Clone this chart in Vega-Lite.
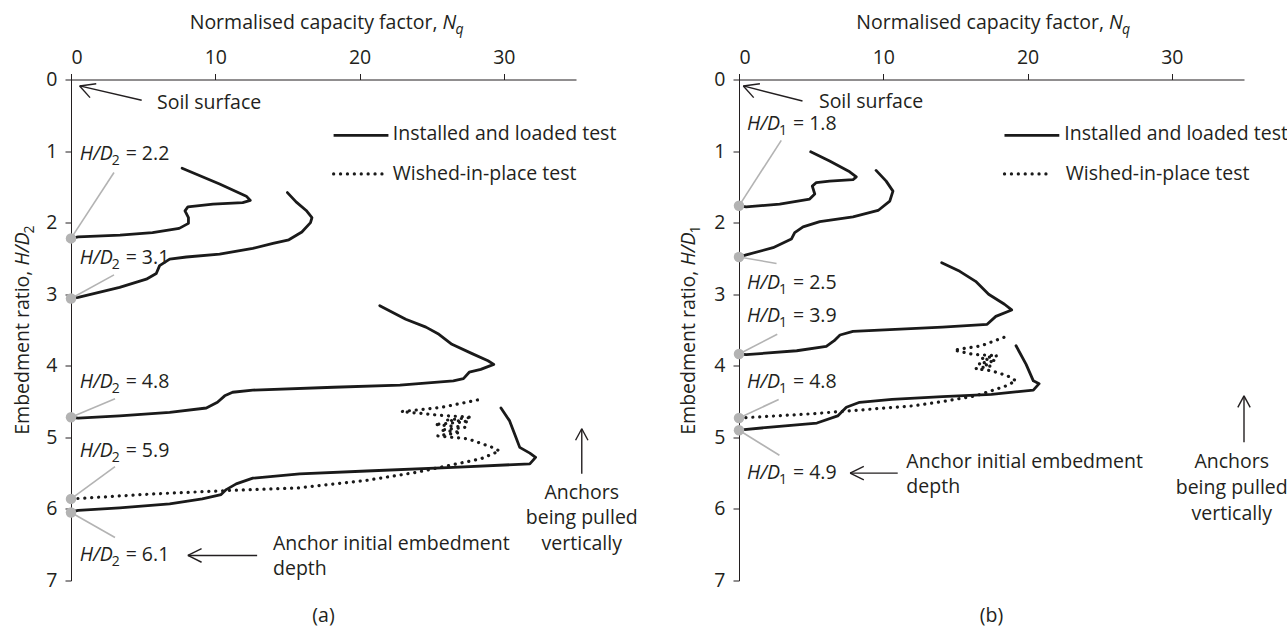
{
  "$schema": "https://vega.github.io/schema/vega-lite/v6.json",
  "padding": {"left": 12, "top": 12.5, "right": 0, "bottom": 8},
  "spacing": 163,
  "bounds": "flush",
  "config": {
    "view": {"stroke": null},
    "axis": {"grid": false, "domainColor": "#231f20", "tickColor": "#231f20", "labelColor": "#231f20", "labelFont": "Open Sans", "labelFontSize": 19.5, "tickSize": 6, "domainWidth": 1, "tickWidth": 1},
    "text": {"font": "Open Sans", "fontSize": 19.5, "color": "#231f20"}
  },
  "datasets": {
    "curves": [
      {"p":"a","id":"a1","t":"solid","s":1,"N":0,"H":2.22},{"p":"a","id":"a1","t":"solid","s":2,"N":0.5,"H":2.2},{"p":"a","id":"a1","t":"solid","s":3,"N":3.4,"H":2.175},{"p":"a","id":"a1","t":"solid","s":4,"N":5.65,"H":2.14},{"p":"a","id":"a1","t":"solid","s":5,"N":7.5,"H":2.08},{"p":"a","id":"a1","t":"solid","s":6,"N":8.14,"H":2.01},{"p":"a","id":"a1","t":"solid","s":7,"N":8.14,"H":1.93},{"p":"a","id":"a1","t":"solid","s":8,"N":7.9,"H":1.835},{"p":"a","id":"a1","t":"solid","s":9,"N":8.1,"H":1.78},{"p":"a","id":"a1","t":"solid","s":10,"N":9.84,"H":1.74},{"p":"a","id":"a1","t":"solid","s":11,"N":11.9,"H":1.72},{"p":"a","id":"a1","t":"solid","s":12,"N":12.43,"H":1.69},{"p":"a","id":"a1","t":"solid","s":13,"N":12.15,"H":1.63},{"p":"a","id":"a1","t":"solid","s":14,"N":10.3,"H":1.46},{"p":"a","id":"a1","t":"solid","s":15,"N":7.7,"H":1.24},
      {"p":"a","id":"a2","t":"solid","s":1,"N":0,"H":3.06},{"p":"a","id":"a2","t":"solid","s":2,"N":0.5,"H":3.045},{"p":"a","id":"a2","t":"solid","s":3,"N":3.37,"H":2.905},{"p":"a","id":"a2","t":"solid","s":4,"N":5.22,"H":2.79},{"p":"a","id":"a2","t":"solid","s":5,"N":5.91,"H":2.71},{"p":"a","id":"a2","t":"solid","s":6,"N":6.14,"H":2.6},{"p":"a","id":"a2","t":"solid","s":7,"N":6.84,"H":2.51},{"p":"a","id":"a2","t":"solid","s":8,"N":8.0,"H":2.48},{"p":"a","id":"a2","t":"solid","s":9,"N":10.3,"H":2.44},{"p":"a","id":"a2","t":"solid","s":10,"N":12.6,"H":2.36},{"p":"a","id":"a2","t":"solid","s":11,"N":14.0,"H":2.29},{"p":"a","id":"a2","t":"solid","s":12,"N":15.1,"H":2.24},{"p":"a","id":"a2","t":"solid","s":13,"N":16.0,"H":2.13},{"p":"a","id":"a2","t":"solid","s":14,"N":16.6,"H":2.0},{"p":"a","id":"a2","t":"solid","s":15,"N":16.7,"H":1.93},{"p":"a","id":"a2","t":"solid","s":16,"N":16.3,"H":1.83},{"p":"a","id":"a2","t":"solid","s":17,"N":15.6,"H":1.71},{"p":"a","id":"a2","t":"solid","s":18,"N":15.0,"H":1.58},
      {"p":"a","id":"a3","t":"solid","s":1,"N":0,"H":4.72},{"p":"a","id":"a3","t":"solid","s":2,"N":0.5,"H":4.73},{"p":"a","id":"a3","t":"solid","s":3,"N":3.37,"H":4.7},{"p":"a","id":"a3","t":"solid","s":4,"N":6.84,"H":4.65},{"p":"a","id":"a3","t":"solid","s":5,"N":9.38,"H":4.59},{"p":"a","id":"a3","t":"solid","s":6,"N":10.15,"H":4.51},{"p":"a","id":"a3","t":"solid","s":7,"N":10.65,"H":4.42},{"p":"a","id":"a3","t":"solid","s":8,"N":11.2,"H":4.37},{"p":"a","id":"a3","t":"solid","s":9,"N":12.6,"H":4.34},{"p":"a","id":"a3","t":"solid","s":10,"N":18.2,"H":4.3},{"p":"a","id":"a3","t":"solid","s":11,"N":22.8,"H":4.27},{"p":"a","id":"a3","t":"solid","s":12,"N":26.5,"H":4.21},{"p":"a","id":"a3","t":"solid","s":13,"N":27.2,"H":4.18},{"p":"a","id":"a3","t":"solid","s":14,"N":27.6,"H":4.09},{"p":"a","id":"a3","t":"solid","s":15,"N":28.4,"H":4.05},{"p":"a","id":"a3","t":"solid","s":16,"N":29.3,"H":3.98},{"p":"a","id":"a3","t":"solid","s":17,"N":28.9,"H":3.93},{"p":"a","id":"a3","t":"solid","s":18,"N":27.8,"H":3.83},{"p":"a","id":"a3","t":"solid","s":19,"N":26.4,"H":3.7},{"p":"a","id":"a3","t":"solid","s":20,"N":25.5,"H":3.56},{"p":"a","id":"a3","t":"solid","s":21,"N":24.6,"H":3.46},{"p":"a","id":"a3","t":"solid","s":22,"N":23.2,"H":3.35},{"p":"a","id":"a3","t":"solid","s":23,"N":21.4,"H":3.16},
      {"p":"a","id":"a4","t":"solid","s":1,"N":0,"H":6.04},{"p":"a","id":"a4","t":"solid","s":2,"N":0.5,"H":6.02},{"p":"a","id":"a4","t":"solid","s":3,"N":3.37,"H":5.985},{"p":"a","id":"a4","t":"solid","s":4,"N":6.84,"H":5.93},{"p":"a","id":"a4","t":"solid","s":5,"N":9.1,"H":5.86},{"p":"a","id":"a4","t":"solid","s":6,"N":10.4,"H":5.8},{"p":"a","id":"a4","t":"solid","s":7,"N":10.76,"H":5.73},{"p":"a","id":"a4","t":"solid","s":8,"N":11.45,"H":5.65},{"p":"a","id":"a4","t":"solid","s":9,"N":12.6,"H":5.57},{"p":"a","id":"a4","t":"solid","s":10,"N":15.85,"H":5.51},{"p":"a","id":"a4","t":"solid","s":11,"N":20.5,"H":5.47},{"p":"a","id":"a4","t":"solid","s":12,"N":26.5,"H":5.42},{"p":"a","id":"a4","t":"solid","s":13,"N":31.8,"H":5.37},{"p":"a","id":"a4","t":"solid","s":14,"N":32.2,"H":5.28},{"p":"a","id":"a4","t":"solid","s":15,"N":31.8,"H":5.22},{"p":"a","id":"a4","t":"solid","s":16,"N":31.1,"H":5.14},{"p":"a","id":"a4","t":"solid","s":17,"N":30.8,"H":4.98},{"p":"a","id":"a4","t":"solid","s":18,"N":30.4,"H":4.77},{"p":"a","id":"a4","t":"solid","s":19,"N":29.8,"H":4.59},
      {"p":"a","id":"a5","t":"dotted","s":1,"N":0,"H":5.86},{"p":"a","id":"a5","t":"dotted","s":2,"N":5.68,"H":5.79},{"p":"a","id":"a5","t":"dotted","s":3,"N":11.2,"H":5.74},{"p":"a","id":"a5","t":"dotted","s":4,"N":15.85,"H":5.705},{"p":"a","id":"a5","t":"dotted","s":5,"N":20.5,"H":5.6},{"p":"a","id":"a5","t":"dotted","s":6,"N":23.9,"H":5.49},{"p":"a","id":"a5","t":"dotted","s":7,"N":26.5,"H":5.38},{"p":"a","id":"a5","t":"dotted","s":8,"N":28.4,"H":5.3},{"p":"a","id":"a5","t":"dotted","s":9,"N":29.7,"H":5.19},{"p":"a","id":"a5","t":"dotted","s":10,"N":29.2,"H":5.14},{"p":"a","id":"a5","t":"dotted","s":11,"N":27.5,"H":5.02},{"p":"a","id":"a5","t":"dotted","s":12,"N":25.4,"H":4.98},{"p":"a","id":"a5","t":"dotted","s":13,"N":27.0,"H":4.93},{"p":"a","id":"a5","t":"dotted","s":14,"N":25.6,"H":4.9},{"p":"a","id":"a5","t":"dotted","s":15,"N":27.3,"H":4.86},{"p":"a","id":"a5","t":"dotted","s":16,"N":25.2,"H":4.82},{"p":"a","id":"a5","t":"dotted","s":17,"N":27.6,"H":4.78},{"p":"a","id":"a5","t":"dotted","s":18,"N":26.0,"H":4.76},{"p":"a","id":"a5","t":"dotted","s":19,"N":27.8,"H":4.72},{"p":"a","id":"a5","t":"dotted","s":20,"N":25.5,"H":4.69},{"p":"a","id":"a5","t":"dotted","s":21,"N":22.9,"H":4.64},{"p":"a","id":"a5","t":"dotted","s":22,"N":25.7,"H":4.58},{"p":"a","id":"a5","t":"dotted","s":23,"N":28.6,"H":4.46},
      {"p":"b","id":"b1","t":"solid","s":1,"N":0,"H":1.765},{"p":"b","id":"b1","t":"solid","s":2,"N":0.5,"H":1.78},{"p":"b","id":"b1","t":"solid","s":3,"N":2.82,"H":1.74},{"p":"b","id":"b1","t":"solid","s":4,"N":4.9,"H":1.67},{"p":"b","id":"b1","t":"solid","s":5,"N":5.25,"H":1.6},{"p":"b","id":"b1","t":"solid","s":6,"N":5.08,"H":1.49},{"p":"b","id":"b1","t":"solid","s":7,"N":5.36,"H":1.44},{"p":"b","id":"b1","t":"solid","s":8,"N":6.28,"H":1.42},{"p":"b","id":"b1","t":"solid","s":9,"N":7.9,"H":1.4},{"p":"b","id":"b1","t":"solid","s":10,"N":8.13,"H":1.36},{"p":"b","id":"b1","t":"solid","s":11,"N":7.67,"H":1.29},{"p":"b","id":"b1","t":"solid","s":12,"N":6.28,"H":1.14},{"p":"b","id":"b1","t":"solid","s":13,"N":4.97,"H":1.01},
      {"p":"b","id":"b2","t":"solid","s":1,"N":0,"H":2.48},{"p":"b","id":"b2","t":"solid","s":2,"N":0.5,"H":2.45},{"p":"b","id":"b2","t":"solid","s":3,"N":2.36,"H":2.35},{"p":"b","id":"b2","t":"solid","s":4,"N":3.63,"H":2.23},{"p":"b","id":"b2","t":"solid","s":5,"N":3.86,"H":2.14},{"p":"b","id":"b2","t":"solid","s":6,"N":4.44,"H":2.06},{"p":"b","id":"b2","t":"solid","s":7,"N":5.6,"H":1.985},{"p":"b","id":"b2","t":"solid","s":8,"N":7.9,"H":1.92},{"p":"b","id":"b2","t":"solid","s":9,"N":9.64,"H":1.83},{"p":"b","id":"b2","t":"solid","s":10,"N":10.45,"H":1.7},{"p":"b","id":"b2","t":"solid","s":11,"N":10.67,"H":1.56},{"p":"b","id":"b2","t":"solid","s":12,"N":10.2,"H":1.42},{"p":"b","id":"b2","t":"solid","s":13,"N":9.5,"H":1.27},
      {"p":"b","id":"b3","t":"solid","s":1,"N":0,"H":3.835},{"p":"b","id":"b3","t":"solid","s":2,"N":0.5,"H":3.845},{"p":"b","id":"b3","t":"solid","s":3,"N":4.0,"H":3.79},{"p":"b","id":"b3","t":"solid","s":4,"N":6.05,"H":3.73},{"p":"b","id":"b3","t":"solid","s":5,"N":6.6,"H":3.65},{"p":"b","id":"b3","t":"solid","s":6,"N":7.0,"H":3.57},{"p":"b","id":"b3","t":"solid","s":7,"N":7.9,"H":3.52},{"p":"b","id":"b3","t":"solid","s":8,"N":14.1,"H":3.46},{"p":"b","id":"b3","t":"solid","s":9,"N":17.2,"H":3.42},{"p":"b","id":"b3","t":"solid","s":10,"N":17.8,"H":3.31},{"p":"b","id":"b3","t":"solid","s":11,"N":18.9,"H":3.22},{"p":"b","id":"b3","t":"solid","s":12,"N":18.4,"H":3.14},{"p":"b","id":"b3","t":"solid","s":13,"N":17.3,"H":3.0},{"p":"b","id":"b3","t":"solid","s":14,"N":16.4,"H":2.82},{"p":"b","id":"b3","t":"solid","s":15,"N":15.3,"H":2.68},{"p":"b","id":"b3","t":"solid","s":16,"N":14.05,"H":2.56},
      {"p":"b","id":"b4","t":"solid","s":1,"N":0,"H":4.9},{"p":"b","id":"b4","t":"solid","s":2,"N":2.0,"H":4.86},{"p":"b","id":"b4","t":"solid","s":3,"N":5.4,"H":4.8},{"p":"b","id":"b4","t":"solid","s":4,"N":6.84,"H":4.7},{"p":"b","id":"b4","t":"solid","s":5,"N":7.44,"H":4.58},{"p":"b","id":"b4","t":"solid","s":6,"N":8.36,"H":4.51},{"p":"b","id":"b4","t":"solid","s":7,"N":10.6,"H":4.47},{"p":"b","id":"b4","t":"solid","s":8,"N":14.1,"H":4.43},{"p":"b","id":"b4","t":"solid","s":9,"N":17.5,"H":4.4},{"p":"b","id":"b4","t":"solid","s":10,"N":20.4,"H":4.34},{"p":"b","id":"b4","t":"solid","s":11,"N":20.8,"H":4.25},{"p":"b","id":"b4","t":"solid","s":12,"N":20.4,"H":4.21},{"p":"b","id":"b4","t":"solid","s":13,"N":19.9,"H":3.98},{"p":"b","id":"b4","t":"solid","s":14,"N":19.2,"H":3.72},
      {"p":"b","id":"b5","t":"dotted","s":1,"N":0,"H":4.73},{"p":"b","id":"b5","t":"dotted","s":2,"N":5.1,"H":4.67},{"p":"b","id":"b5","t":"dotted","s":3,"N":12.06,"H":4.56},{"p":"b","id":"b5","t":"dotted","s":4,"N":14.1,"H":4.5},{"p":"b","id":"b5","t":"dotted","s":5,"N":16.4,"H":4.42},{"p":"b","id":"b5","t":"dotted","s":6,"N":18.4,"H":4.29},{"p":"b","id":"b5","t":"dotted","s":7,"N":19.2,"H":4.21},{"p":"b","id":"b5","t":"dotted","s":8,"N":18.6,"H":4.14},{"p":"b","id":"b5","t":"dotted","s":9,"N":17.5,"H":4.07},{"p":"b","id":"b5","t":"dotted","s":10,"N":16.4,"H":4.04},{"p":"b","id":"b5","t":"dotted","s":11,"N":17.5,"H":4.0},{"p":"b","id":"b5","t":"dotted","s":12,"N":16.6,"H":3.97},{"p":"b","id":"b5","t":"dotted","s":13,"N":17.8,"H":3.93},{"p":"b","id":"b5","t":"dotted","s":14,"N":16.8,"H":3.9},{"p":"b","id":"b5","t":"dotted","s":15,"N":17.9,"H":3.86},{"p":"b","id":"b5","t":"dotted","s":16,"N":16.2,"H":3.84},{"p":"b","id":"b5","t":"dotted","s":17,"N":14.9,"H":3.78},{"p":"b","id":"b5","t":"dotted","s":18,"N":16.8,"H":3.72},{"p":"b","id":"b5","t":"dotted","s":19,"N":18.4,"H":3.6}
    ],
    "dots": [
      {"p":"a","N":0,"H":2.22},{"p":"a","N":0,"H":3.06},{"p":"a","N":0,"H":4.72},{"p":"a","N":0,"H":5.86},{"p":"a","N":0,"H":6.05},
      {"p":"b","N":0,"H":1.765},{"p":"b","N":0,"H":2.48},{"p":"b","N":0,"H":3.835},{"p":"b","N":0,"H":4.73},{"p":"b","N":0,"H":4.9}
    ],
    "leaders": [
      {"p":"a","N":0,"H":2.22,"N2":2.98,"H2":1.3},{"p":"a","N":0,"H":3.06,"N2":2.98,"H2":2.73},{"p":"a","N":0,"H":4.72,"N2":3.05,"H2":4.46},{"p":"a","N":0,"H":5.86,"N2":3.05,"H2":5.41},{"p":"a","N":0,"H":6.05,"N2":3.05,"H2":6.4},
      {"p":"b","N":0,"H":1.765,"N2":2.93,"H2":0.85},{"p":"b","N":0,"H":2.48,"N2":2.6,"H2":2.57},{"p":"b","N":0,"H":3.835,"N2":2.65,"H2":3.56},{"p":"b","N":0,"H":4.73,"N2":2.75,"H2":4.47},{"p":"b","N":0,"H":4.9,"N2":2.8,"H2":5.25}
    ],
    "arrows": [
      {"p":"a","N":0.6,"H":0.09,"N2":4.9,"H2":0.29},{"p":"a","N":0.6,"H":0.09,"N2":1.75,"H2":0.06},{"p":"a","N":0.6,"H":0.09,"N2":1.32,"H2":0.253},
      {"p":"a","N":8.1,"H":6.65,"N2":12.9,"H2":6.65},{"p":"a","N":8.1,"H":6.65,"N2":9.05,"H2":6.555},{"p":"a","N":8.1,"H":6.65,"N2":9.05,"H2":6.745},
      {"p":"a","N":35.4,"H":4.88,"N2":35.4,"H2":5.51},{"p":"a","N":35.4,"H":4.88,"N2":34.97,"H2":5.04},{"p":"a","N":35.4,"H":4.88,"N2":35.83,"H2":5.04},
      {"p":"b","N":0.3,"H":0.09,"N2":4.4,"H2":0.3},{"p":"b","N":0.3,"H":0.09,"N2":1.45,"H2":0.06},{"p":"b","N":0.3,"H":0.09,"N2":1.02,"H2":0.253},
      {"p":"b","N":7.7,"H":5.5,"N2":11.0,"H2":5.5},{"p":"b","N":7.7,"H":5.5,"N2":8.65,"H2":5.405},{"p":"b","N":7.7,"H":5.5,"N2":8.65,"H2":5.595},
      {"p":"b","N":35.0,"H":4.42,"N2":35.0,"H2":5.07},{"p":"b","N":35.0,"H":4.42,"N2":34.57,"H2":4.58},{"p":"b","N":35.0,"H":4.42,"N2":35.43,"H2":4.58}
    ],
    "samples": [
      {"p":"a","t":"solid","N":18.2,"H":0.78,"N2":22.0,"H2":0.78},{"p":"a","t":"dotted","N":18.2,"H":1.32,"N2":21.6,"H2":1.32},
      {"p":"b","t":"solid","N":18.4,"H":0.78,"N2":22.2,"H2":0.78},{"p":"b","t":"dotted","N":18.4,"H":1.32,"N2":21.6,"H2":1.32}
    ],
    "notes": [
      {"p":"a","N":5.96,"H":0.335,"text":"Soil surface"},{"p":"a","N":22.3,"H":0.765,"text":"Installed and loaded test"},{"p":"a","N":22.3,"H":1.32,"text":"Wished-in-place test"},{"p":"a","N":14.0,"H":6.49,"text":"Anchor initial embedment"},{"p":"a","N":14.0,"H":6.84,"text":"depth"},
      {"p":"b","N":5.54,"H":0.32,"text":"Soil surface"},{"p":"b","N":22.55,"H":0.765,"text":"Installed and loaded test"},{"p":"b","N":22.65,"H":1.32,"text":"Wished-in-place test"},{"p":"b","N":11.6,"H":5.35,"text":"Anchor initial embedment"},{"p":"b","N":11.6,"H":5.7,"text":"depth"}
    ],
    "cnotes": [
      {"p":"a","N":35.4,"H":5.78,"text":"Anchors"},{"p":"a","N":35.4,"H":6.12,"text":"being pulled"},{"p":"a","N":35.4,"H":6.49,"text":"vertically"},{"p":"a","N":17.5,"H":7.5,"text":"(a)"},
      {"p":"b","N":34.15,"H":5.35,"text":"Anchors"},{"p":"b","N":34.15,"H":5.71,"text":"being pulled"},{"p":"b","N":34.15,"H":6.07,"text":"vertically"},{"p":"b","N":17.5,"H":7.5,"text":"(b)"}
    ],
    "labels": [
      {"p":"a","N":0.6,"H":1.045,"pre":"H/D","sub":"2","val":"= 2.2"},{"p":"a","N":0.6,"H":2.49,"pre":"H/D","sub":"2","val":"= 3.1"},{"p":"a","N":0.6,"H":4.23,"pre":"H/D","sub":"2","val":"= 4.8"},{"p":"a","N":0.6,"H":5.185,"pre":"H/D","sub":"2","val":"= 5.9"},{"p":"a","N":0.6,"H":6.65,"pre":"H/D","sub":"2","val":"= 6.1"},
      {"p":"b","N":0.55,"H":0.62,"pre":"H/D","sub":"1","val":"= 1.8"},{"p":"b","N":0.55,"H":2.84,"pre":"H/D","sub":"1","val":"= 2.5"},{"p":"b","N":0.55,"H":3.3,"pre":"H/D","sub":"1","val":"= 3.9"},{"p":"b","N":0.55,"H":4.23,"pre":"H/D","sub":"1","val":"= 4.8"},{"p":"b","N":0.55,"H":5.5,"pre":"H/D","sub":"1","val":"= 4.9"}
    ],
    "xtitle": [
      {"p":"a","N":25.4,"H":-0.79,"plain":"Normalised capacity factor,","ital":"N","sub":"q"},
      {"p":"b","N":25.3,"H":-0.79,"plain":"Normalised capacity factor,","ital":"N","sub":"q"}
    ],
    "ytitle": [
      {"p":"a","N":-3.33,"H":2.67,"plain":"Embedment ratio,","ital":"H/D","sub":"2"},
      {"p":"b","N":-3.45,"H":2.67,"plain":"Embedment ratio,","ital":"H/D","sub":"1"}
    ]
  },
  "hconcat": [
    {
      "width": 505, "height": 501,
      "encoding": {
        "x": {"field": "N", "type": "quantitative", "scale": {"domain": [0, 35], "nice": false, "zero": false}, "axis": {"orient": "top", "values": [0, 10, 20, 30], "title": null, "labelPadding": 6}},
        "y": {"field": "H", "type": "quantitative", "scale": {"domain": [0, 7], "nice": false, "zero": false, "reverse": true}, "axis": {"values": [0, 1, 2, 3, 4, 5, 6, 7], "title": null, "labelPadding": 8}}
      },
      "layer": [
        {"data": {"name": "curves"}, "transform": [{"filter": "datum.p==='a' && datum.t==='solid'"}], "mark": {"type": "line", "stroke": "#1a1a1a", "strokeWidth": 2.8, "strokeCap": "round", "strokeJoin": "round"}, "encoding": {"detail": {"field": "id"}, "order": {"field": "s", "type": "quantitative"}}},
        {"data": {"name": "curves"}, "transform": [{"filter": "datum.p==='a' && datum.t==='dotted'"}], "mark": {"type": "line", "stroke": "#1a1a1a", "strokeWidth": 3.2, "strokeCap": "round", "strokeDash": [0.1, 6.8]}, "encoding": {"detail": {"field": "id"}, "order": {"field": "s", "type": "quantitative"}}},
        {"data": {"name": "leaders"}, "transform": [{"filter": "datum.p==='a'"}], "mark": {"type": "rule", "color": "#b3b3b3", "strokeWidth": 1.6}, "encoding": {"x2": {"field": "N2"}, "y2": {"field": "H2"}}},
        {"data": {"name": "dots"}, "transform": [{"filter": "datum.p==='a'"}], "mark": {"type": "point", "filled": true, "size": 110, "color": "#b3b3b3", "opacity": 1}},
        {"data": {"name": "arrows"}, "transform": [{"filter": "datum.p==='a'"}], "mark": {"type": "rule", "color": "#231f20", "strokeWidth": 1.4}, "encoding": {"x2": {"field": "N2"}, "y2": {"field": "H2"}}},
        {"data": {"name": "samples"}, "transform": [{"filter": "datum.p==='a' && datum.t==='solid'"}], "mark": {"type": "rule", "color": "#1a1a1a", "strokeWidth": 2.8}, "encoding": {"x2": {"field": "N2"}, "y2": {"field": "H2"}}},
        {"data": {"name": "samples"}, "transform": [{"filter": "datum.p==='a' && datum.t==='dotted'"}], "mark": {"type": "rule", "color": "#1a1a1a", "strokeWidth": 3.2, "strokeCap": "round", "strokeDash": [0.1, 6.8]}, "encoding": {"x2": {"field": "N2"}, "y2": {"field": "H2"}}},
        {"data": {"name": "notes"}, "transform": [{"filter": "datum.p==='a'"}], "mark": {"type": "text", "align": "left", "baseline": "middle"}, "encoding": {"text": {"field": "text"}}},
        {"data": {"name": "cnotes"}, "transform": [{"filter": "datum.p==='a'"}], "mark": {"type": "text", "align": "center", "baseline": "middle"}, "encoding": {"text": {"field": "text"}}},
        {"data": {"name": "labels"}, "transform": [{"filter": "datum.p==='a'"}], "mark": {"type": "text", "align": "left", "baseline": "middle", "fontStyle": "italic"}, "encoding": {"text": {"field": "pre"}}},
        {"data": {"name": "labels"}, "transform": [{"filter": "datum.p==='a'"}], "mark": {"type": "text", "align": "left", "baseline": "middle", "fontSize": 14, "dx": 32, "dy": 7}, "encoding": {"text": {"field": "sub"}}},
        {"data": {"name": "labels"}, "transform": [{"filter": "datum.p==='a'"}], "mark": {"type": "text", "align": "left", "baseline": "middle", "dx": 46}, "encoding": {"text": {"field": "val"}}},
        {"data": {"name": "xtitle"}, "transform": [{"filter": "datum.p==='a'"}], "mark": {"type": "text", "align": "right", "baseline": "middle"}, "encoding": {"text": {"field": "plain"}}},
        {"data": {"name": "xtitle"}, "transform": [{"filter": "datum.p==='a'"}], "mark": {"type": "text", "align": "left", "baseline": "middle", "fontStyle": "italic", "dx": 5}, "encoding": {"text": {"field": "ital"}}},
        {"data": {"name": "xtitle"}, "transform": [{"filter": "datum.p==='a'"}], "mark": {"type": "text", "align": "left", "baseline": "middle", "fontStyle": "italic", "fontSize": 14, "dx": 18, "dy": 7}, "encoding": {"text": {"field": "sub"}}},
        {"data": {"name": "ytitle"}, "transform": [{"filter": "datum.p==='a'"}], "mark": {"type": "text", "align": "right", "baseline": "middle", "angle": 270}, "encoding": {"text": {"field": "plain"}}},
        {"data": {"name": "ytitle"}, "transform": [{"filter": "datum.p==='a'"}], "mark": {"type": "text", "align": "left", "baseline": "middle", "angle": 270, "fontStyle": "italic", "dx": 5}, "encoding": {"text": {"field": "ital"}}},
        {"data": {"name": "ytitle"}, "transform": [{"filter": "datum.p==='a'"}], "mark": {"type": "text", "align": "left", "baseline": "middle", "angle": 270, "fontSize": 14, "dx": 37, "dy": 7}, "encoding": {"text": {"field": "sub"}}}
      ]
    },
    {
      "width": 505, "height": 501,
      "encoding": {
        "x": {"field": "N", "type": "quantitative", "scale": {"domain": [0, 35], "nice": false, "zero": false}, "axis": {"orient": "top", "values": [0, 10, 20, 30], "title": null, "labelPadding": 6}},
        "y": {"field": "H", "type": "quantitative", "scale": {"domain": [0, 7], "nice": false, "zero": false, "reverse": true}, "axis": {"values": [0, 1, 2, 3, 4, 5, 6, 7], "title": null, "labelPadding": 8}}
      },
      "layer": [
        {"data": {"name": "curves"}, "transform": [{"filter": "datum.p==='b' && datum.t==='solid'"}], "mark": {"type": "line", "stroke": "#1a1a1a", "strokeWidth": 2.8, "strokeCap": "round", "strokeJoin": "round"}, "encoding": {"detail": {"field": "id"}, "order": {"field": "s", "type": "quantitative"}}},
        {"data": {"name": "curves"}, "transform": [{"filter": "datum.p==='b' && datum.t==='dotted'"}], "mark": {"type": "line", "stroke": "#1a1a1a", "strokeWidth": 3.2, "strokeCap": "round", "strokeDash": [0.1, 6.8]}, "encoding": {"detail": {"field": "id"}, "order": {"field": "s", "type": "quantitative"}}},
        {"data": {"name": "leaders"}, "transform": [{"filter": "datum.p==='b'"}], "mark": {"type": "rule", "color": "#b3b3b3", "strokeWidth": 1.6}, "encoding": {"x2": {"field": "N2"}, "y2": {"field": "H2"}}},
        {"data": {"name": "dots"}, "transform": [{"filter": "datum.p==='b'"}], "mark": {"type": "point", "filled": true, "size": 110, "color": "#b3b3b3", "opacity": 1}},
        {"data": {"name": "arrows"}, "transform": [{"filter": "datum.p==='b'"}], "mark": {"type": "rule", "color": "#231f20", "strokeWidth": 1.4}, "encoding": {"x2": {"field": "N2"}, "y2": {"field": "H2"}}},
        {"data": {"name": "samples"}, "transform": [{"filter": "datum.p==='b' && datum.t==='solid'"}], "mark": {"type": "rule", "color": "#1a1a1a", "strokeWidth": 2.8}, "encoding": {"x2": {"field": "N2"}, "y2": {"field": "H2"}}},
        {"data": {"name": "samples"}, "transform": [{"filter": "datum.p==='b' && datum.t==='dotted'"}], "mark": {"type": "rule", "color": "#1a1a1a", "strokeWidth": 3.2, "strokeCap": "round", "strokeDash": [0.1, 6.8]}, "encoding": {"x2": {"field": "N2"}, "y2": {"field": "H2"}}},
        {"data": {"name": "notes"}, "transform": [{"filter": "datum.p==='b'"}], "mark": {"type": "text", "align": "left", "baseline": "middle"}, "encoding": {"text": {"field": "text"}}},
        {"data": {"name": "cnotes"}, "transform": [{"filter": "datum.p==='b'"}], "mark": {"type": "text", "align": "center", "baseline": "middle"}, "encoding": {"text": {"field": "text"}}},
        {"data": {"name": "labels"}, "transform": [{"filter": "datum.p==='b'"}], "mark": {"type": "text", "align": "left", "baseline": "middle", "fontStyle": "italic"}, "encoding": {"text": {"field": "pre"}}},
        {"data": {"name": "labels"}, "transform": [{"filter": "datum.p==='b'"}], "mark": {"type": "text", "align": "left", "baseline": "middle", "fontSize": 14, "dx": 32, "dy": 7}, "encoding": {"text": {"field": "sub"}}},
        {"data": {"name": "labels"}, "transform": [{"filter": "datum.p==='b'"}], "mark": {"type": "text", "align": "left", "baseline": "middle", "dx": 46}, "encoding": {"text": {"field": "val"}}},
        {"data": {"name": "xtitle"}, "transform": [{"filter": "datum.p==='b'"}], "mark": {"type": "text", "align": "right", "baseline": "middle"}, "encoding": {"text": {"field": "plain"}}},
        {"data": {"name": "xtitle"}, "transform": [{"filter": "datum.p==='b'"}], "mark": {"type": "text", "align": "left", "baseline": "middle", "fontStyle": "italic", "dx": 5}, "encoding": {"text": {"field": "ital"}}},
        {"data": {"name": "xtitle"}, "transform": [{"filter": "datum.p==='b'"}], "mark": {"type": "text", "align": "left", "baseline": "middle", "fontStyle": "italic", "fontSize": 14, "dx": 18, "dy": 7}, "encoding": {"text": {"field": "sub"}}},
        {"data": {"name": "ytitle"}, "transform": [{"filter": "datum.p==='b'"}], "mark": {"type": "text", "align": "right", "baseline": "middle", "angle": 270}, "encoding": {"text": {"field": "plain"}}},
        {"data": {"name": "ytitle"}, "transform": [{"filter": "datum.p==='b'"}], "mark": {"type": "text", "align": "left", "baseline": "middle", "angle": 270, "fontStyle": "italic", "dx": 5}, "encoding": {"text": {"field": "ital"}}},
        {"data": {"name": "ytitle"}, "transform": [{"filter": "datum.p==='b'"}], "mark": {"type": "text", "align": "left", "baseline": "middle", "angle": 270, "fontSize": 14, "dx": 37, "dy": 7}, "encoding": {"text": {"field": "sub"}}}
      ]
    }
  ]
}
